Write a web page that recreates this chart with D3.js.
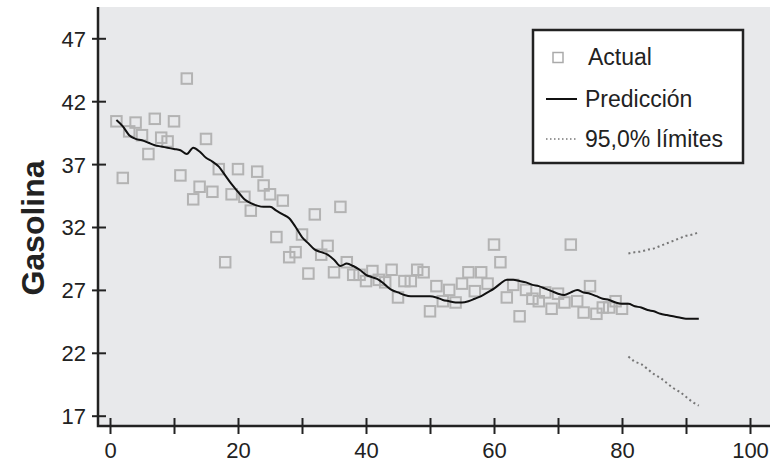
<!DOCTYPE html>
<html>
<head>
<meta charset="utf-8">
<script src="https://cdn.jsdelivr.net/npm/d3@7/dist/d3.min.js"></script>
<style>
  body { margin: 0; background: #fff; }
  text { font-family: "Liberation Sans", Arial, sans-serif; fill: #222; }
</style>
</head>
<body>
<svg id="chart" width="770" height="466"></svg>
<script>
// observed values, x = 1..80
const actualX = d3.range(1, 81);
const actual = [40.4, 35.9, 39.6, 40.3, 39.3, 37.8, 40.6, 39.1, 38.8, 40.4,
  36.1, 43.8, 34.2, 35.2, 39.0, 34.8, 36.6, 29.2, 34.6, 36.6,
  34.4, 33.3, 36.4, 35.3, 34.6, 31.2, 34.1, 29.6, 30.0, 31.4,
  28.3, 33.0, 29.8, 30.5, 28.4, 33.6, 29.2, 28.2, 28.2, 27.7,
  28.5, 27.8, 27.6, 28.6, 26.4, 27.7, 27.7, 28.6, 28.4, 25.3,
  27.3, 26.1, 27.0, 26.0, 27.5, 28.4, 26.9, 28.4, 27.5, 30.6,
  29.2, 26.4, 27.4, 24.9, 27.0, 26.3, 26.1, 26.8, 25.5, 26.7,
  26.0, 30.6, 26.1, 25.2, 27.3, 25.1, 25.6, 25.6, 26.1, 25.5];

// fitted values, x = 1..92
const predX = d3.range(1, 93);
const pred = [40.5, 40.0, 39.3, 39.0, 38.9, 38.7, 38.5, 38.4, 38.3, 38.2,
  38.1, 37.8, 38.3, 38.0, 37.5, 37.2, 36.8, 36.1, 35.4, 34.8,
  34.2, 33.9, 33.7, 33.6, 33.6, 33.3, 33.0, 32.7, 32.0, 31.2,
  30.7, 30.2, 30.0, 29.8, 29.4, 28.9, 29.1, 28.9, 28.6, 28.2,
  28.0, 27.8, 27.4, 27.0, 26.8, 26.6, 26.5, 26.5, 26.5, 26.5,
  26.4, 26.2, 26.1, 26.0, 26.0, 26.1, 26.3, 26.5, 26.8, 27.1,
  27.5, 27.8, 27.8, 27.7, 27.6, 27.4, 27.3, 27.1, 26.9, 26.7,
  26.6, 26.8, 27.0, 26.8, 26.7, 26.5, 26.3, 26.2, 26.0, 25.9,
  25.9, 25.7, 25.6, 25.4, 25.3, 25.1, 25.0, 24.9, 24.8, 24.7,
  24.7, 24.7];

// 95% limits for the forecast, x = 81..92
const limX = d3.range(81, 93);
const upper = [29.9, 30.0, 30.05, 30.2, 30.3, 30.5, 30.7, 30.9, 31.1, 31.3, 31.4, 31.6];
const lower = [21.7, 21.3, 21.1, 20.7, 20.3, 20.0, 19.6, 19.2, 18.9, 18.5, 18.1, 17.8];

const xTicks = d3.range(0, 101, 10);
const xLabels = [0, 20, 40, 60, 80, 100];
const yTicks = [17, 22, 27, 32, 37, 42, 47];
const legendLabels = ["Actual", "Predicción", "95,0% límites"];

const svg = d3.select('#chart');
const pLeft = 98, pRight = 770, pTop = 7, pBottom = 426;

const x = d3.scaleLinear().domain([0, 100]).range([110, 750]);
const y = d3.scaleLinear().domain([17, 47]).range([415.7, 38.3]);

svg.append("rect")
    .attr("x", pLeft).attr("y", pTop)
    .attr("width", pRight - pLeft).attr("height", pBottom - pTop)
    .attr("fill", "#e8e9eb");

// actual points
const sq = 10.5;
svg.append("g")
    .attr("fill", "none")
    .attr("stroke", "#b3b3b3")
    .attr("stroke-width", 2)
  .selectAll("rect")
  .data(actualX)
  .join("rect")
    .attr("x", (d, i) => x(d) - sq / 2)
    .attr("y", (d, i) => y(actual[i]) - sq / 2)
    .attr("width", sq).attr("height", sq);

const line = d3.line()
    .x(d => x(d[0]))
    .y(d => y(d[1]))
    .curve(d3.curveMonotoneX);

svg.append("path")
    .datum(predX.map((d, i) => [d, pred[i]]))
    .attr("fill", "none")
    .attr("stroke", "#111")
    .attr("stroke-width", 2)
    .attr("d", line);

[upper, lower].forEach(s => {
  svg.append("path")
      .datum(limX.map((d, i) => [d, s[i]]))
      .attr("fill", "none")
      .attr("stroke", "#777")
      .attr("stroke-width", 2)
      .attr("stroke-dasharray", "2,3")
      .attr("d", line);
});

// axes
const xAxis = svg.append("g")
    .attr("transform", `translate(0,${pBottom})`)
    .call(d3.axisBottom(x).tickValues(xTicks).tickSize(0)
      .tickFormat(d => xLabels.includes(d) ? d : ""));
xAxis.select(".domain").remove();
xAxis.selectAll(".tick line")
    .attr("y1", -8).attr("y2", 8)
    .attr("stroke", "#222").attr("stroke-width", 2);
xAxis.selectAll(".tick text")
    .attr("y", 32).attr("dy", 0)
    .style("font-size", "22px").attr("fill", "#222");

const yAxis = svg.append("g")
    .attr("transform", `translate(${pLeft},0)`)
    .call(d3.axisLeft(y).tickValues(yTicks).tickSize(0));
yAxis.select(".domain").remove();
yAxis.selectAll(".tick line")
    .attr("x1", -6).attr("x2", 8)
    .attr("stroke", "#222").attr("stroke-width", 2);
yAxis.selectAll(".tick text")
    .attr("x", -12).attr("dy", "0.36em")
    .style("font-size", "22px").attr("fill", "#222");

svg.append("path")
    .attr("d", `M${pLeft},${pTop}V${pBottom}H${pRight}`)
    .attr("fill", "none")
    .attr("stroke", "#222")
    .attr("stroke-width", 2.5);

svg.append("text")
    .attr("transform", "translate(44,228) rotate(-90)")
    .attr("text-anchor", "middle")
    .style("font-size", "32px")
    .style("font-weight", "bold")
    .text("Gasolina");

// legend
const lg = svg.append("g");
lg.append("rect")
    .attr("x", 533).attr("y", 30)
    .attr("width", 210).attr("height", 133)
    .attr("fill", "#fff")
    .attr("stroke", "#222").attr("stroke-width", 2.5);
lg.append("rect")
    .attr("x", 553).attr("y", 52.5).attr("width", 10).attr("height", 10)
    .attr("fill", "none").attr("stroke", "#aaa").attr("stroke-width", 1.5);
lg.append("line")
    .attr("x1", 546).attr("x2", 577).attr("y1", 99).attr("y2", 99)
    .attr("stroke", "#111").attr("stroke-width", 2);
lg.append("line")
    .attr("x1", 546).attr("x2", 576).attr("y1", 139).attr("y2", 139)
    .attr("stroke", "#777").attr("stroke-width", 1.5)
    .attr("stroke-dasharray", "1.5,2.5");
lg.selectAll("text.lab")
  .data(legendLabels)
  .join("text")
    .attr("class", "lab")
    .attr("x", (d, i) => i === 0 ? 588 : 585)
    .attr("y", (d, i) => [65, 107, 147][i])
    .style("font-size", "23px")
    .text(d => d);
</script>
</body>
</html>
